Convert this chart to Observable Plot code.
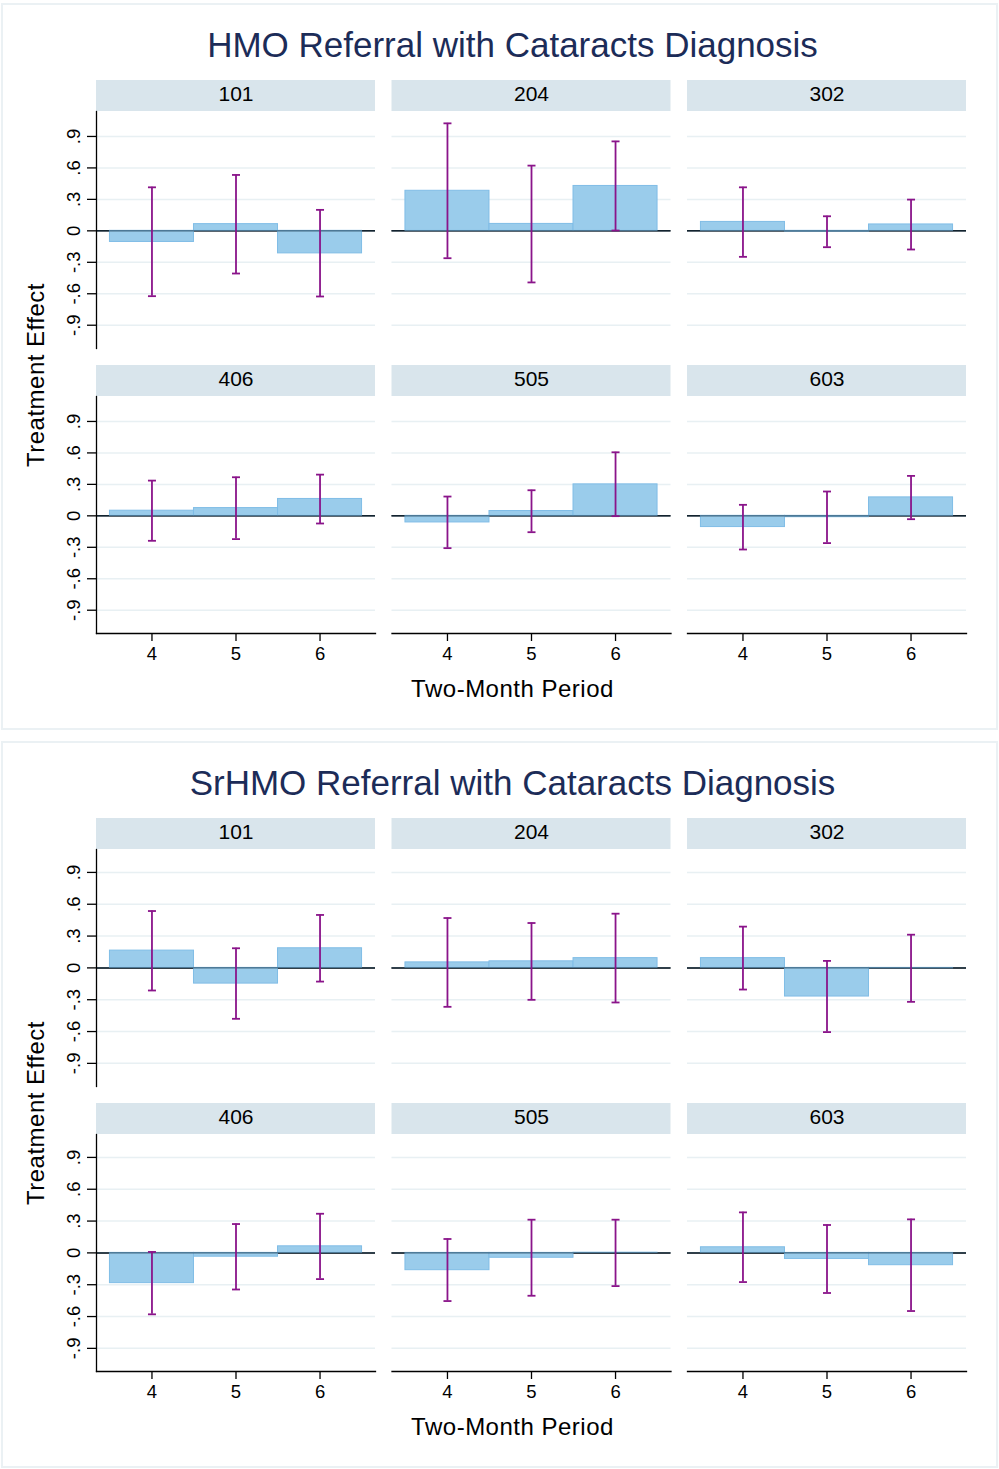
<!DOCTYPE html>
<html>
<head>
<meta charset="utf-8">
<script src="https://cdn.jsdelivr.net/npm/d3@7"></script>
<script src="https://cdn.jsdelivr.net/npm/@observablehq/plot@0.6"></script>
<style>
  html, body { margin: 0; padding: 0; background: #fff; }
  body { width: 999px; height: 1469px; position: relative; overflow: hidden;
         font-family: "Liberation Sans", Arial, Helvetica, sans-serif; }
  .panel { position: absolute; left: 0; width: 999px; height: 738px; }
  .panel-box { position: absolute; left: 1px; top: 3px; width: 997px; height: 727px;
               box-sizing: border-box; border: 2px solid #ebf1f4; }
  .panel-title { position: absolute; left: 512.5px; top: 27.4px; transform: translateX(-50%);
                 white-space: nowrap; font-size: 35px; line-height: 35px; color: #1c2c58; }
  .y-title { position: absolute; left: 36px; top: 375px; transform: translate(-50%, -50%) rotate(-90deg);
             white-space: nowrap; font-size: 24px; line-height: 24px; letter-spacing: 0.5px; color: #000; }
  .x-title { position: absolute; left: 512.5px; top: 676.7px; transform: translateX(-50%);
             white-space: nowrap; font-size: 24px; line-height: 24px; letter-spacing: 0.5px; color: #000; }
  .panel svg { position: absolute; left: 0; top: 70px; overflow: visible; }
</style>
</head>
<body>
<script>
// Two-month periods and sites shown in each small multiple
const periods = [4, 5, 6];
const sites = ["101", "204", "302", "406", "505", "603"];
const yTicks = [-0.9, -0.6, -0.3, 0, 0.3, 0.6, 0.9];

// HMO referral: treatment effect and 95% interval, one row per site, columns = periods 4, 5, 6
const hmoEstimate = [
  [-0.106, 0.064, -0.215],
  [0.382, 0.066, 0.428],
  [0.085, -0.008, 0.061],
  [0.049, 0.074, 0.161],
  [-0.063, 0.046, 0.300],
  [-0.107, -0.013, 0.176]
];
const hmoLower = [
  [-0.623, -0.407, -0.626],
  [-0.261, -0.492, 0.003],
  [-0.248, -0.156, -0.178],
  [-0.238, -0.222, -0.073],
  [-0.308, -0.156, -0.003],
  [-0.321, -0.260, -0.032]
];
const hmoUpper = [
  [0.415, 0.533, 0.200],
  [1.025, 0.622, 0.853],
  [0.415, 0.139, 0.298],
  [0.336, 0.368, 0.393],
  [0.184, 0.244, 0.606],
  [0.105, 0.232, 0.381]
];

// SrHMO referral
const srhmoEstimate = [
  [0.163, -0.148, 0.185],
  [0.052, 0.062, 0.092],
  [0.092, -0.270, -0.004],
  [-0.285, -0.036, 0.062],
  [-0.163, -0.046, 0.002],
  [0.053, -0.057, -0.116]
];
const srhmoLower = [
  [-0.213, -0.480, -0.129],
  [-0.367, -0.301, -0.326],
  [-0.204, -0.605, -0.320],
  [-0.579, -0.345, -0.247],
  [-0.454, -0.404, -0.313],
  [-0.275, -0.378, -0.548]
];
const srhmoUpper = [
  [0.536, 0.185, 0.499],
  [0.470, 0.423, 0.511],
  [0.389, 0.066, 0.313],
  [0.009, 0.272, 0.369],
  [0.131, 0.313, 0.313],
  [0.382, 0.263, 0.316]
];

const panels = [
  { title: "HMO Referral with Cataracts Diagnosis", est: hmoEstimate, lo: hmoLower, hi: hmoUpper, yDomain: [-1.122, 1.138] },
  { title: "SrHMO Referral with Cataracts Diagnosis", est: srhmoEstimate, lo: srhmoLower, hi: srhmoUpper, yDomain: [-1.118, 1.116] }
];

// Layout of the 3 x 2 grid of small multiples
const W = 999, H = 650;
const marginLeft = 96, marginRight = 33, marginTop = 41, marginBottom = 87;
const facetW = 279, facetH = 237, stripH = 31;
const colGap = (W - marginLeft - marginRight - 3 * facetW) / 2;
const rowGap = (H - marginTop - marginBottom - 2 * facetH);
const xDomain = [3.34, 6.66];

const barFill = "#9acceb", barStroke = "#80bde6";
const ciColor = "#8a148a";
const stripFill = "#d9e5ec", gridColor = "#e8f0f3";
const fontFamily = '"Liberation Sans", Arial, Helvetica, sans-serif';

// horizontal cap for the interval ends
const capSymbol = {
  draw(context, size) {
    const r = Math.sqrt(size / Math.PI);
    context.moveTo(-r, 0);
    context.lineTo(r, 0);
  }
};

const tickFormat = d => d === 0 ? "0" : (d < 0 ? "-" : "") + Math.abs(d).toFixed(1).replace(/^0/, "");

function chart(panel) {
  const rows = [];
  sites.forEach((site, i) => periods.forEach((period, j) => rows.push({
    site, col: i % 3, row: Math.floor(i / 3), period,
    est: panel.est[i][j], lo: panel.lo[i][j], hi: panel.hi[i][j]
  })));
  const strips = sites.map((site, i) => ({ site, col: i % 3, row: Math.floor(i / 3) }));
  const top = panel.yDomain[1];
  const facet = { fx: "col", fy: "row" };

  return Plot.plot({
    width: W, height: H,
    marginLeft, marginRight, marginTop, marginBottom,
    style: { fontFamily, fontSize: "18px", color: "#000", background: "transparent", overflow: "visible" },
    fx: { domain: [0, 1, 2], paddingInner: colGap / (facetW + colGap), paddingOuter: 0, axis: null, round: false },
    fy: { domain: [0, 1], paddingInner: rowGap / (facetH + rowGap), paddingOuter: 0, axis: null, round: false },
    x: { domain: xDomain },
    y: { domain: panel.yDomain },
    marks: [
      // strip above each facet with the site label
      Plot.rect(strips, { ...facet, x1: xDomain[0], x2: xDomain[1], y1: top, y2: top, insetTop: -stripH, fill: stripFill }),
      Plot.text(strips, { ...facet, text: "site", frameAnchor: "top", lineAnchor: "middle", dy: -17.5,
                          fontSize: 21, fill: "#000" }),
      Plot.gridY(yTicks, { stroke: gridColor, strokeOpacity: 1, strokeWidth: 1.5 }),
      Plot.ruleY([0], { stroke: "#000", strokeWidth: 1.5 }),
      // treatment effect bars, one period wide
      Plot.rect(rows, { ...facet, x1: d => d.period - 0.5, x2: d => d.period + 0.5, y1: 0, y2: "est",
                        fill: barFill, stroke: barStroke, strokeWidth: 1 }),
      Plot.ruleY([0], { stroke: "#23435a", strokeOpacity: 0.7, strokeWidth: 1.2 }),
      // confidence intervals
      Plot.ruleX(rows, { ...facet, x: "period", y1: "lo", y2: "hi", stroke: ciColor, strokeWidth: 1.8 }),
      Plot.dot(rows, { ...facet, x: "period", y: "lo", symbol: capSymbol, r: 4, stroke: ciColor, strokeWidth: 1.8, fill: "none" }),
      Plot.dot(rows, { ...facet, x: "period", y: "hi", symbol: capSymbol, r: 4, stroke: ciColor, strokeWidth: 1.8, fill: "none" }),
      // axis lines on the outer facets
      Plot.frame({ anchor: "left", facetAnchor: "left", stroke: "#000", strokeWidth: 1.3 }),
      Plot.frame({ anchor: "bottom", facetAnchor: "bottom", stroke: "#000", strokeWidth: 1.3 }),
      Plot.axisY(yTicks, { anchor: "left", facetAnchor: "left", tickSize: 9, tickPadding: 8, tickRotate: -90,
                           tickFormat, fontSize: 18.5, label: null, stroke: "#000", strokeWidth: 1.3 }),
      Plot.axisX(periods, { anchor: "bottom", facetAnchor: "bottom", tickSize: 8, tickPadding: 5,
                            tickFormat: d => String(d), fontSize: 18.5, label: null, stroke: "#000", strokeWidth: 1.3 })
    ]
  });
}

panels.forEach((panel, k) => {
  const div = document.createElement("div");
  div.className = "panel";
  div.style.top = (k * 738) + "px";

  const box = document.createElement("div");
  box.className = "panel-box";
  div.appendChild(box);

  const title = document.createElement("div");
  title.className = "panel-title";
  title.textContent = panel.title;
  div.appendChild(title);

  div.appendChild(chart(panel));

  const yTitle = document.createElement("div");
  yTitle.className = "y-title";
  yTitle.textContent = "Treatment Effect";
  div.appendChild(yTitle);

  const xTitle = document.createElement("div");
  xTitle.className = "x-title";
  xTitle.textContent = "Two-Month Period";
  div.appendChild(xTitle);

  document.body.appendChild(div);
});
</script>
</body>
</html>
